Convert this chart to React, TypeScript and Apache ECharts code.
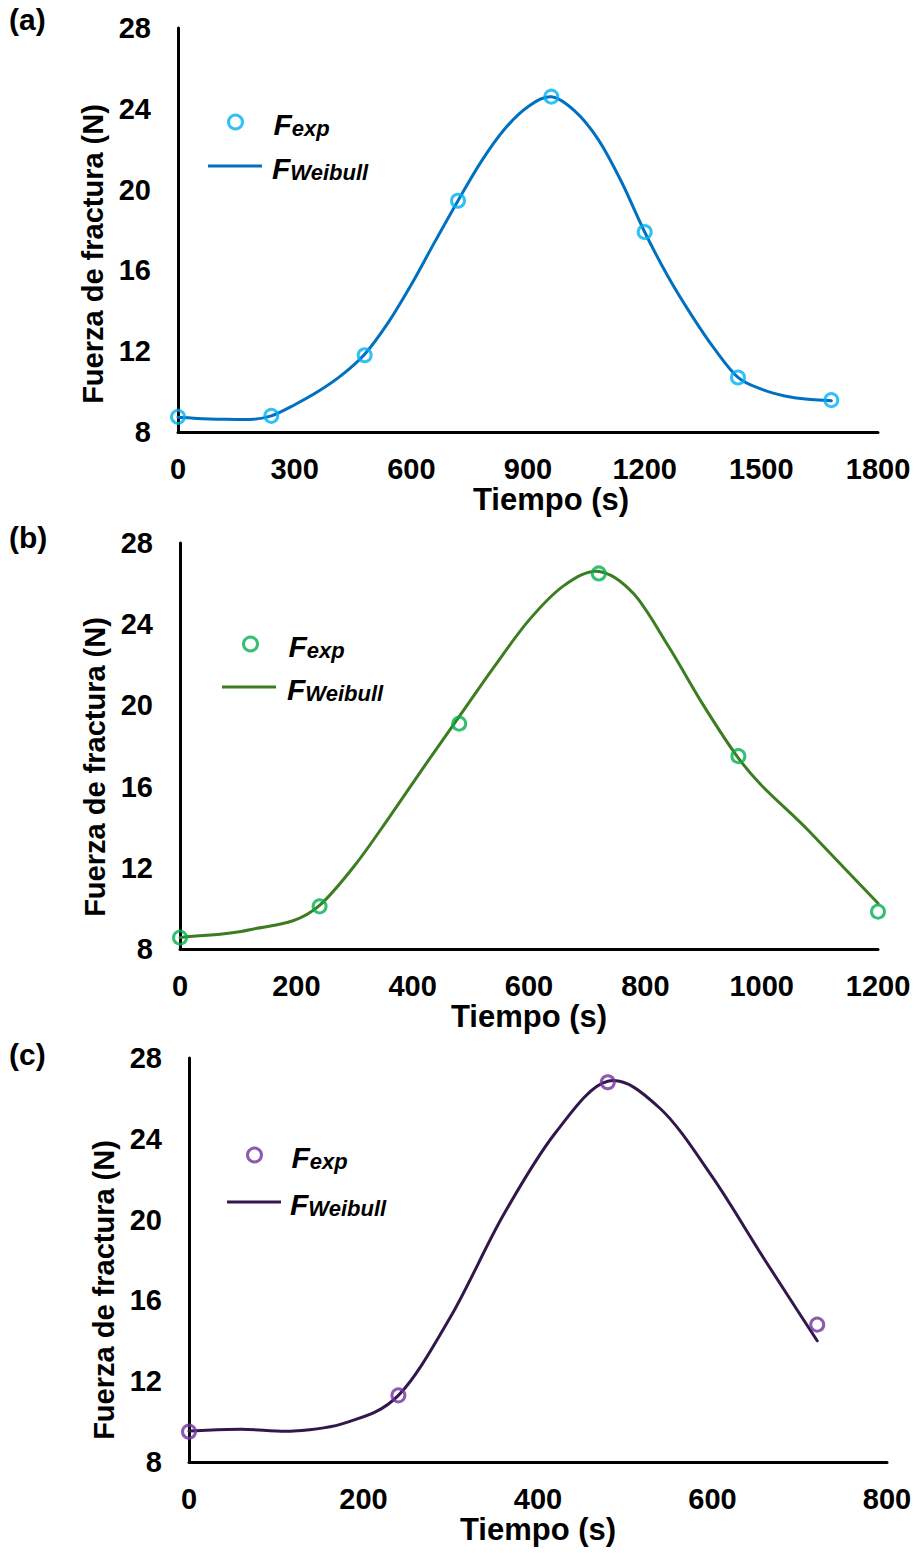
import React, { useEffect, useRef } from "react";
import * as echarts from "echarts";

// Panel (a)
const expTimeA = [0, 240, 480, 720, 960, 1200, 1440, 1680];
const expA = [8.75, 8.8, 11.8, 19.45, 24.6, 17.9, 10.7, 9.58];
const fitTimeA = [0, 120, 240, 300, 360, 420, 480, 540, 600, 660, 720, 780, 840, 900, 960, 1020, 1080, 1140, 1200, 1260, 1320, 1380, 1440, 1500, 1560, 1620, 1680];
const fitA = [8.73, 8.63, 8.8, 9.35, 10.0, 10.8, 11.85, 13.4, 15.3, 17.4, 19.45, 21.4, 23.0, 24.1, 24.6, 23.9, 22.5, 20.4, 17.9, 15.7, 13.8, 12.1, 10.7, 10.12, 9.78, 9.62, 9.55];

// Panel (b)
const expTimeB = [0, 240, 480, 720, 960, 1200];
const expB = [8.56, 10.1, 19.1, 26.5, 17.5, 9.84];
const fitTimeB = [0, 120, 240, 300, 360, 420, 480, 540, 600, 660, 720, 780, 840, 900, 960, 1080, 1200];
const fitB = [8.56, 8.95, 10.15, 12.1, 14.5, 17.0, 19.45, 21.9, 24.2, 25.9, 26.6, 25.5, 22.9, 20.0, 17.4, 13.85, 10.25];

// Panel (c)
const expTimeC = [0, 240, 480, 720];
const expC = [9.5, 11.3, 26.8, 14.8];
const fitTimeC = [0, 60, 120, 180, 240, 300, 360, 420, 480, 540, 600, 660, 720];
const fitC = [9.53, 9.62, 9.53, 9.95, 11.3, 15.2, 20.2, 24.3, 26.85, 25.5, 22.1, 18.0, 14.0];

const yTicks = [8, 12, 16, 20, 24, 28];
const panelLabels = ["(a)", "(b)", "(c)"];
const xAxisName = "Tiempo (s)";
const yAxisName = "Fuerza de fractura (N)";

const FONT = "'Liberation Sans', Arial, sans-serif";

// Smooth path through screen points (cubic Hermite in x, rendered as Bezier segments)
function smoothPath(pts: number[][]): string {
  const n = pts.length;
  if (n < 2) return "";
  const m: number[] = [];
  for (let i = 0; i < n; i++) {
    if (i === 0) {
      m.push((pts[1][1] - pts[0][1]) / (pts[1][0] - pts[0][0]));
    } else if (i === n - 1) {
      m.push((pts[n - 1][1] - pts[n - 2][1]) / (pts[n - 1][0] - pts[n - 2][0]));
    } else {
      const h0 = pts[i][0] - pts[i - 1][0];
      const h1 = pts[i + 1][0] - pts[i][0];
      const s0 = (pts[i][1] - pts[i - 1][1]) / h0;
      const s1 = (pts[i + 1][1] - pts[i][1]) / h1;
      m.push((s0 * h1 + s1 * h0) / (h0 + h1));
    }
  }
  let d = `M${pts[0][0]},${pts[0][1]}`;
  for (let i = 0; i < n - 1; i++) {
    const h = pts[i + 1][0] - pts[i][0];
    const c1x = pts[i][0] + h / 3;
    const c1y = pts[i][1] + (m[i] * h) / 3;
    const c2x = pts[i + 1][0] - h / 3;
    const c2y = pts[i + 1][1] - (m[i + 1] * h) / 3;
    d += ` C${c1x},${c1y} ${c2x},${c2y} ${pts[i + 1][0]},${pts[i + 1][1]}`;
  }
  return d;
}

export default function App() {
  const ref = useRef<HTMLDivElement>(null);
  useEffect(() => {
    if (!ref.current) return;
    const chart = echarts.init(ref.current, null, { renderer: "svg" });

    const panels = [
      { expT: expTimeA, exp: expA, fitT: fitTimeA, fit: fitA, xmax: 1800, xint: 300,
        grid: { left: 178, top: 28, width: 700, height: 404 },
        expColor: "#00B0F0", lineColor: "#0070C0",
        xNamePad: [0, 0, 0, 46], yNamePad: [0, 48, 0, 0],
        legS: { left: 227, top: 109, pad: 26 }, legL: { left: 208, top: 153, pad: 5 },
        label: { left: 9, top: 4 } },
      { expT: expTimeB, exp: expB, fitT: fitTimeB, fit: fitB, xmax: 1200, xint: 200,
        grid: { left: 180, top: 543, width: 698, height: 406 },
        expColor: "#00B050", lineColor: "#3C7D22",
        xNamePad: [0, 0, 0, 0], yNamePad: [0, 42, 0, 0],
        legS: { left: 242, top: 631, pad: 26 }, legL: { left: 222, top: 674, pad: 6 },
        label: { left: 9, top: 522 } },
      { expT: expTimeC, exp: expC, fitT: fitTimeC, fit: fitC, xmax: 800, xint: 200,
        grid: { left: 189, top: 1058, width: 698, height: 404 },
        expColor: "#7030A0", lineColor: "#32174D",
        xNamePad: [0, 0, 0, 0], yNamePad: [0, 60, 0, 0],
        legS: { left: 246, top: 1142, pad: 25 }, legL: { left: 227, top: 1189, pad: 4 },
        label: { left: 9, top: 1039 } },
    ];

    const rich = {
      F: { fontSize: 30, fontWeight: "bold", fontStyle: "italic", fontFamily: FONT, color: "#000", lineHeight: 34, verticalAlign: "bottom" },
      s: { fontSize: 22, fontWeight: "bold", fontStyle: "italic", fontFamily: FONT, color: "#000", lineHeight: 34, verticalAlign: "bottom" },
    };

    const grid: any[] = [];
    const xAxis: any[] = [];
    const yAxis: any[] = [];
    const series: any[] = [];
    const legend: any[] = [];
    const title: any[] = [];

    panels.forEach((p, i) => {
      const tag = ["a", "b", "c"][i];
      grid.push({ ...p.grid, containLabel: false });
      xAxis.push({
        type: "value", gridIndex: i, min: 0, max: p.xmax, interval: p.xint,
        axisLine: { show: true, onZero: false, lineStyle: { color: "#000", width: 3 } },
        axisTick: { show: false }, splitLine: { show: false },
        axisLabel: { margin: 22, fontSize: 29, fontWeight: "bold", fontFamily: FONT, color: "#000",
          formatter: (v: number) => String(v) },
        name: xAxisName, nameLocation: "middle", nameGap: 50,
        nameTextStyle: { fontSize: 31, fontWeight: "bold", fontFamily: FONT, color: "#000", padding: p.xNamePad },
      });
      yAxis.push({
        type: "value", gridIndex: i, min: 8, max: 28, interval: 4,
        axisLine: { show: true, onZero: false, lineStyle: { color: "#000", width: 3 } },
        axisTick: { show: false }, splitLine: { show: false },
        axisLabel: { margin: 27, fontSize: 29, fontWeight: "bold", fontFamily: FONT, color: "#000",
          formatter: (v: number) => (yTicks.includes(v) ? String(v) : "") },
        name: yAxisName, nameLocation: "middle", nameGap: 70,
        nameTextStyle: { fontSize: 29, fontWeight: "bold", fontFamily: FONT, color: "#000", padding: p.yNamePad },
      });
      const nExp = "Fexp_" + tag;
      const nFit = "FWeibull_" + tag;
      const fitData = p.fitT.map((t, k) => [t, p.fit[k]]);
      series.push({
        name: nFit, type: "custom", xAxisIndex: i, yAxisIndex: i,
        coordinateSystem: "cartesian2d",
        encode: { x: 0, y: 1 },
        itemStyle: { color: p.lineColor },
        data: fitData, z: 2, silent: true,
        renderItem: (params: any, api: any) => {
          if (params.dataIndex !== 0) return null;
          const pts = fitData.map((d) => api.coord(d));
          return {
            type: "path",
            shape: { pathData: smoothPath(pts) },
            style: { fill: "none", stroke: p.lineColor, lineWidth: 3, lineCap: "round" },
          };
        },
      });
      series.push({
        name: nExp, type: "scatter", xAxisIndex: i, yAxisIndex: i,
        symbol: "circle", symbolSize: 13,
        itemStyle: { color: "rgba(255,255,255,0)", borderColor: p.expColor, borderWidth: 3 },
        data: p.expT.map((t, k) => [t, p.exp[k]]), z: 3,
      });
      legend.push({
        data: [{ name: nExp, icon: "circle" }], left: p.legS.left, top: p.legS.top,
        itemWidth: 14, itemHeight: 14, padding: 0, selectedMode: false,
        itemStyle: { color: "#fff", borderColor: p.expColor, borderWidth: 3 },
        formatter: () => "{F|F}{s|exp}",
        textStyle: { rich, padding: [0, 0, 0, p.legS.pad] },
      });
      legend.push({
        data: [{ name: nFit, icon: "rect" }], left: p.legL.left, top: p.legL.top,
        itemWidth: 54, itemHeight: 3, padding: 0, selectedMode: false,
        itemStyle: { color: p.lineColor, borderWidth: 0 },
        lineStyle: { width: 0 },
        formatter: () => "{F|F}{s|Weibull}",
        textStyle: { rich, padding: [0, 0, 0, p.legL.pad] },
      });
      title.push({
        text: panelLabels[i], left: p.label.left, top: p.label.top, padding: 0,
        textStyle: { fontSize: 30, fontWeight: "bold", fontFamily: FONT, color: "#000" },
      });
    });

    chart.setOption({
      animation: false,
      backgroundColor: "#fff",
      title, grid, xAxis, yAxis, series, legend,
    });
    return () => chart.dispose();
  }, []);

  return (
    <div
      ref={ref}
      style={{ position: "absolute", left: 0, top: 0, width: 920, height: 1553 }}
    />
  );
}
